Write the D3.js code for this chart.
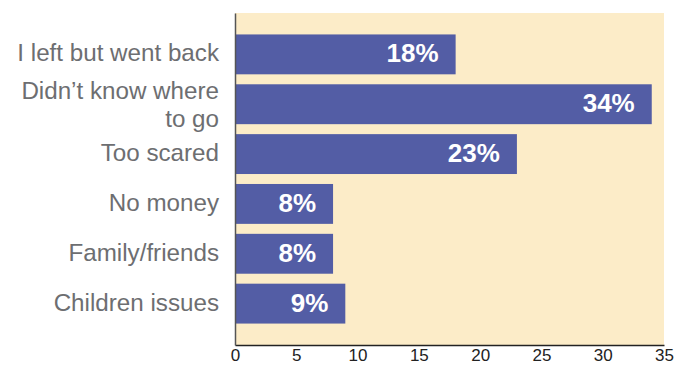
<!DOCTYPE html>
<html>
<head>
<meta charset="utf-8">
<script src="https://cdn.jsdelivr.net/npm/d3@7"></script>
<style>
  body { margin: 0; background: #fff; }
  text { font-family: "Liberation Sans", Arial, Helvetica, sans-serif; }
</style>
</head>
<body>
<div id="chart"></div>
<script>
// data
var categories = ["I left but went back", "Didn’t know where to go", "Too scared", "No money", "Family/friends", "Children issues"];
var labelLines = [["I left but went back"], ["Didn’t know where", "to go"], ["Too scared"], ["No money"], ["Family/friends"], ["Children issues"]];
var values = [18, 34, 23, 8, 8, 9];
var xTicks = [0, 5, 10, 15, 20, 25, 30, 35];

var width = 688;
var height = 365;
var margin = {top: 13, bottom: 20, left: 235, right: 24};

var svg = d3.select("#chart").append("svg")
  .attr("width", width)
  .attr("height", height);

var x = d3.scaleLinear()
  .domain([0, 35])
  .range([margin.left, width - margin.right]);

var y = d3.scaleBand()
  .domain(categories)
  .range([margin.top, height - margin.bottom])
  .paddingInner(0.2)
  .paddingOuter(0.43);

// background
svg.append("rect")
  .attr("x", x(0))
  .attr("y", margin.top)
  .attr("width", x(35) - x(0))
  .attr("height", height - margin.bottom - margin.top)
  .style("fill", "#fcecc8");

// bars
svg.selectAll("rect.bar").data(values)
  .enter().append("rect")
  .attr("class", "bar")
  .attr("x", x(0))
  .attr("y", function(d, i) { return y(categories[i]); })
  .attr("width", function(d) { return x(d) - x(0); })
  .attr("height", y.bandwidth())
  .style("fill", "#535da5");

// value labels
svg.selectAll("text.val").data(values)
  .enter().append("text")
  .attr("class", "val")
  .attr("x", function(d) { return x(d) - 17; })
  .attr("y", function(d, i) { return y(categories[i]) + y.bandwidth() / 2 + 8; })
  .attr("text-anchor", "end")
  .style("font-size", "26px")
  .style("font-weight", "bold")
  .style("fill", "#fff")
  .text(function(d) { return d + "%"; });

// category labels
var lab = svg.selectAll("text.cat").data(labelLines)
  .enter().append("text")
  .attr("class", "cat")
  .attr("text-anchor", "end")
  .style("font-size", "24.2px")
  .style("fill", "#6d6e71")
  .attr("transform", function(d, i) {
    var c = y(categories[i]) + y.bandwidth() / 2;
    var base = d.length > 1 ? c - 5 : c + 7;
    return "translate(219," + base + ")";
  });
lab.selectAll("tspan").data(function(d) { return d; })
  .enter().append("tspan")
  .attr("x", 0)
  .attr("y", function(d, j) { return j * 27.5; })
  .text(function(d) { return d; });

// x axis (labels kept just inside the bottom edge)
var xAxis = d3.axisBottom(x).tickValues(xTicks).tickSize(0).tickPadding(3.5);
var gx = svg.append("g")
  .attr("transform", "translate(0," + (height - margin.bottom) + ")")
  .call(xAxis);
gx.select(".domain").attr("stroke", "#222").attr("stroke-width", 1.5);
gx.selectAll("text")
  .style("font-size", "17px")
  .style("font-family", "'Liberation Sans', Arial, sans-serif")
  .style("fill", "#222");

// y axis line
var yAxis = d3.axisLeft(y).tickSize(0).tickFormat("");
var gy = svg.append("g")
  .attr("transform", "translate(" + margin.left + ",0)")
  .call(yAxis);
gy.select(".domain").attr("stroke", "#555").attr("stroke-width", 1.5);
</script>
</body>
</html>
